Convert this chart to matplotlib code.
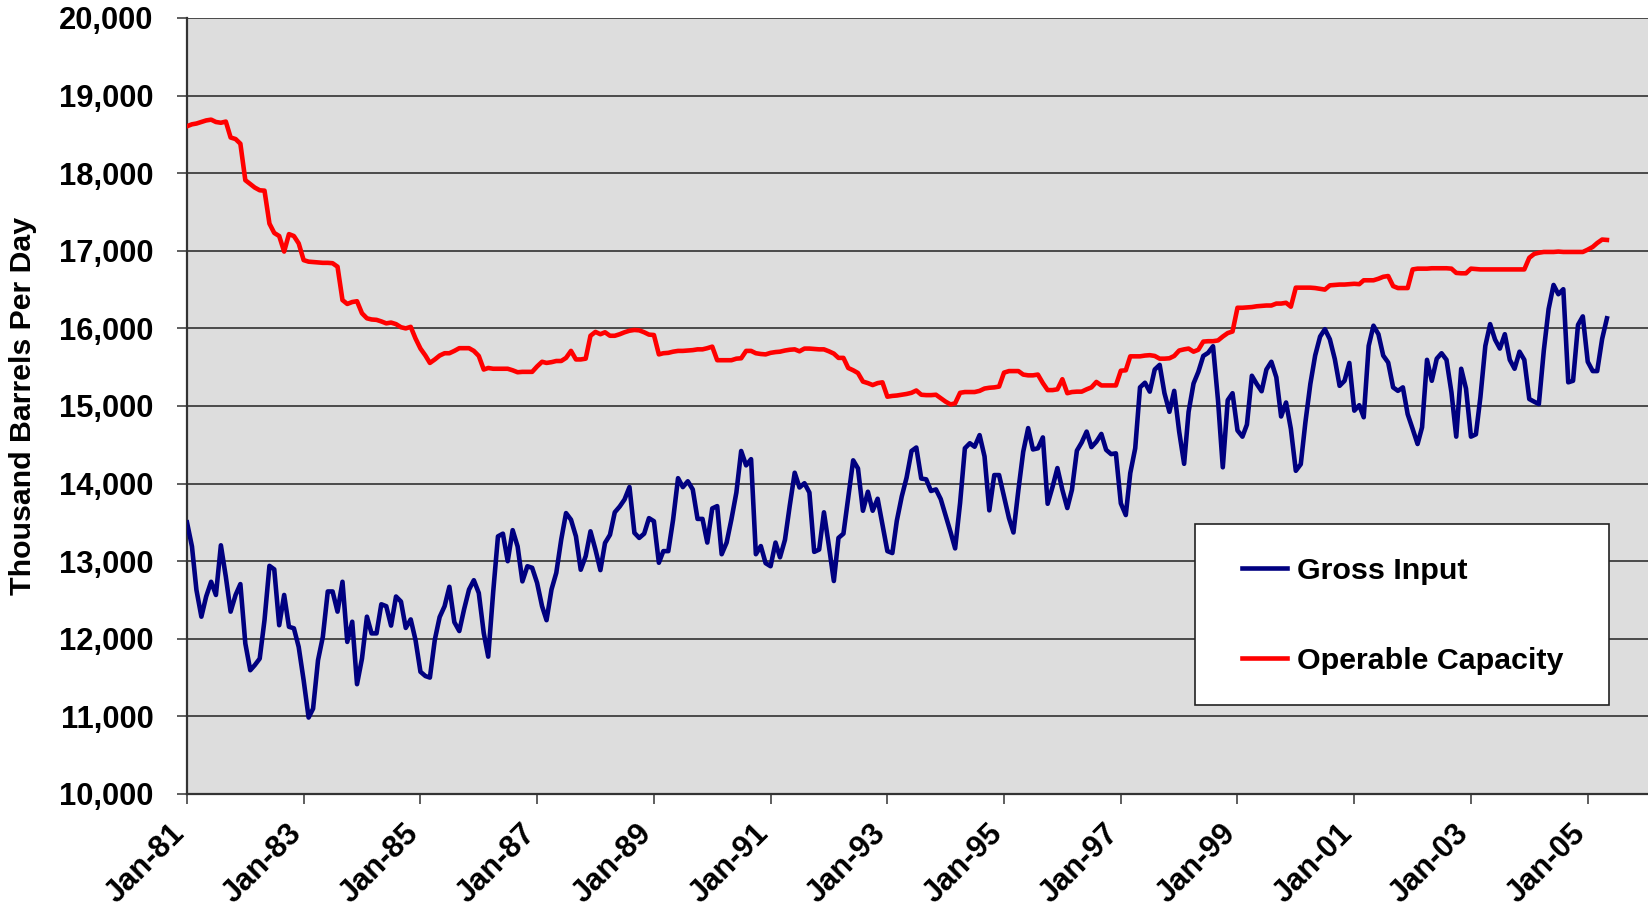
import pandas as pd
import matplotlib
matplotlib.use('Agg')
import matplotlib.pyplot as plt
import matplotlib.dates as mdates
import matplotlib.transforms as mtransforms
from matplotlib.patches import Rectangle
from matplotlib.ticker import FuncFormatter, MultipleLocator

plt.rcParams['font.family'] = ['Liberation Sans', 'DejaVu Sans']
plt.rcParams['font.weight'] = 'bold'

# monthly values, Jan-1981 .. May-2005 (thousand barrels per day)
gross_input = [
    13500, 13190, 12630, 12285, 12545, 12735, 12565, 13205, 12800, 12350, 12565, 12705,
    11940, 11595, 11660, 11745, 12240, 12940, 12895, 12175, 12565, 12155, 12135, 11895,
    11465, 10985, 11100, 11725, 12025, 12610, 12610, 12350, 12735, 11960, 12220, 11415,
    11745, 12285, 12070, 12070, 12445, 12420, 12170, 12545, 12480, 12140, 12250, 11985,
    11575, 11520, 11500, 11990, 12280, 12420, 12670, 12215, 12100, 12380, 12635, 12755,
    12590, 12075, 11770, 12600, 13320, 13355, 13000, 13400, 13190, 12740, 12935, 12915,
    12720, 12420, 12240, 12635, 12850, 13280, 13620, 13535, 13320, 12890, 13065, 13385,
    13150, 12885, 13235, 13340, 13630, 13705, 13795, 13955, 13365, 13300, 13355, 13555,
    13515, 12980, 13130, 13130, 13535, 14070, 13955, 14030, 13925, 13545, 13545, 13240,
    13680, 13710, 13090, 13240, 13540, 13885, 14420, 14235, 14315, 13090, 13195, 12975,
    12935, 13240, 13050, 13275, 13715, 14140, 13950, 14005, 13885, 13120, 13150, 13630,
    13195, 12745, 13300, 13355, 13820, 14300, 14195, 13650, 13895, 13650, 13805, 13475,
    13130, 13105, 13520, 13835, 14075, 14420, 14465, 14065, 14055, 13905, 13925, 13800,
    13585, 13370, 13165, 13750, 14455, 14520, 14475, 14625, 14350, 13655, 14110, 14110,
    13835, 13555, 13370, 13920, 14410, 14715, 14440, 14455, 14595, 13740, 13960, 14200,
    13920, 13685, 13920, 14425, 14530, 14670, 14470, 14540, 14640, 14435, 14380, 14390,
    13745, 13595, 14135, 14455, 15240, 15300, 15185, 15470, 15530, 15165, 14925, 15195,
    14670, 14255, 14925, 15290, 15440, 15645, 15685, 15770, 15075, 14210, 15075, 15165,
    14685, 14605, 14760, 15390, 15285, 15190, 15470, 15570, 15370, 14865, 15045, 14705,
    14165, 14250, 14790, 15285, 15650, 15895, 15990, 15860, 15605, 15260, 15325, 15555,
    14940, 15010, 14855, 15775, 16035, 15925, 15650, 15560, 15240, 15195, 15240, 14895,
    14705, 14510, 14725, 15595, 15325, 15610, 15680, 15595, 15175, 14605, 15480, 15225,
    14605, 14635, 15110, 15775, 16055, 15855, 15740, 15925, 15595, 15480, 15700, 15595,
    15090, 15055, 15025, 15715, 16250, 16560, 16440, 16505, 15305, 15325, 16045, 16155,
    15570, 15450, 15450, 15865, 16130,
]

operable_capacity = [
    18605, 18630, 18640, 18660, 18680, 18690, 18660, 18650, 18665, 18460, 18440, 18380,
    17910, 17860, 17815, 17780, 17775, 17350, 17230, 17190, 16990, 17215, 17190, 17095,
    16880, 16860, 16855, 16850, 16845, 16845, 16840, 16795, 16365, 16315, 16340, 16350,
    16195, 16130, 16115, 16110, 16090, 16065, 16075, 16055, 16015, 16000, 16020, 15870,
    15740, 15650, 15555, 15600, 15650, 15680, 15680, 15710, 15745, 15745, 15745, 15710,
    15645, 15470, 15490, 15480, 15480, 15480, 15480, 15460, 15435, 15440, 15440, 15440,
    15510, 15570, 15555, 15565, 15580, 15580, 15620, 15710, 15600, 15600, 15610, 15905,
    15955, 15925, 15950, 15905, 15905, 15925, 15950, 15970, 15980, 15975, 15950, 15920,
    15915, 15665, 15680, 15685, 15700, 15710, 15710, 15715, 15720, 15730, 15730, 15745,
    15765, 15590, 15590, 15590, 15590, 15610, 15615, 15710, 15710, 15680, 15670, 15665,
    15685, 15695, 15700, 15715, 15725, 15730, 15705, 15740, 15740, 15735, 15730, 15730,
    15705, 15675, 15620, 15620, 15490, 15460, 15425, 15315, 15295, 15270, 15295, 15305,
    15120, 15130, 15135, 15145, 15155, 15170, 15200, 15145, 15140, 15140, 15145, 15100,
    15055, 15020, 15035, 15170, 15180, 15180, 15180, 15195, 15225, 15235, 15240, 15250,
    15430, 15450, 15450, 15450, 15405, 15395, 15395, 15405, 15295, 15205, 15205, 15215,
    15345, 15165, 15180, 15185, 15185, 15215, 15240, 15310, 15265, 15265, 15265, 15265,
    15455, 15460, 15640, 15640, 15640, 15650, 15655, 15645, 15610, 15610, 15615, 15645,
    15715, 15730, 15740, 15700, 15725, 15830, 15835, 15835, 15845, 15895, 15940, 15960,
    16266, 16266, 16270, 16275, 16285, 16290, 16295, 16295, 16320, 16320, 16330, 16280,
    16525, 16525, 16525, 16525, 16520, 16510, 16500, 16555, 16560, 16565, 16565, 16570,
    16575, 16570, 16620, 16620, 16620, 16640, 16665, 16675, 16545, 16520, 16520, 16520,
    16760, 16770, 16770, 16770, 16775, 16775, 16775, 16775, 16770, 16715, 16710, 16710,
    16770, 16765, 16760, 16760, 16760, 16760, 16760, 16760, 16760, 16760, 16760, 16760,
    16910, 16960, 16975, 16985, 16985, 16985, 16990, 16985, 16985, 16985, 16985, 16985,
    17015, 17050, 17100, 17145, 17140,
]

months = pd.date_range('1981-01-01', periods=len(gross_input), freq='MS')
year_ticks = pd.date_range('1981-01-01', '2005-01-01', freq='24MS')

W, H = 1648, 907
FS = 22.2
fig = plt.figure(figsize=(W / 100, H / 100), dpi=100)
ax = fig.add_axes([187 / W, 1 - 794 / H, (W - 187) / W, 776 / H])
ax.set_facecolor('#dddddd')

ax.plot(months, gross_input, color='#000080', lw=3.3, label='Gross Input', zorder=3)
ax.plot(months, operable_capacity, color='#ff0000', lw=3.3, label='Operable Capacity', zorder=3)

ax.set_ylim(10000, 20000)
ax.set_xlim(pd.Timestamp('1981-01-01'), pd.Timestamp('2006-01-13'))
ax.yaxis.set_major_locator(MultipleLocator(1000))
ax.yaxis.set_major_formatter(FuncFormatter(lambda v, p: f'{v:,.0f}'))
ax.set_xticks(year_ticks)
ax.xaxis.set_major_formatter(mdates.DateFormatter('%b-%y'))
ax.grid(axis='y', color='#222222', lw=1.1)
ax.set_axisbelow(True)

for s in ['top', 'right']:
    ax.spines[s].set_visible(False)
for s in ['left', 'bottom']:
    ax.spines[s].set_color('#333333')
    ax.spines[s].set_linewidth(1.6)

ax.tick_params(axis='y', length=7, width=1.1, color='#333333', pad=17, labelsize=FS)
ax.tick_params(axis='x', length=7, width=1.1, color='#333333', pad=7, labelsize=FS)
shift = mtransforms.ScaledTranslation(-17 / 100, -5 / 100, fig.dpi_scale_trans)
for lab in ax.get_xticklabels():
    lab.set_rotation(45)
    lab.set_ha('right')
    lab.set_va('top')
    lab.set_rotation_mode('anchor')
    lab.set_fontweight('bold')
    lab.set_transform(lab.get_transform() + shift)
for lab in ax.get_yticklabels():
    lab.set_fontweight('bold')

ax.set_ylabel('Thousand Barrels Per Day', fontsize=21.8, fontweight='bold')
ax.yaxis.set_label_coords(-0.103, 0.5)

# legend box
ax.add_patch(Rectangle((0.690, 0.115), 0.283, 0.233, transform=ax.transAxes,
                       facecolor='white', edgecolor='#222222', lw=1.2, zorder=4))
leg = ax.legend(loc='upper left', bbox_to_anchor=(0.722, 0.306), frameon=False,
                fontsize=21.9, handlelength=1.5, handletextpad=0.3,
                labelspacing=2.05, borderpad=0, borderaxespad=0)
leg.set_zorder(5)
for line in leg.get_lines():
    line.set_linewidth(3.3)

fig.savefig('out.png', dpi=100)
